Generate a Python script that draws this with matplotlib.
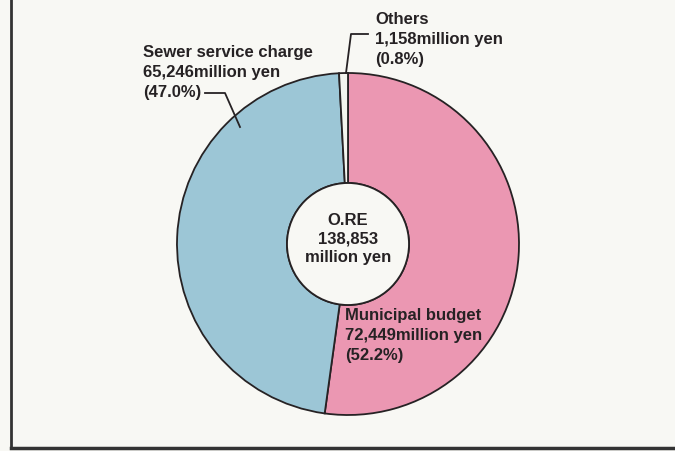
import numpy as np
import matplotlib
matplotlib.use("Agg")
import matplotlib.pyplot as plt

# revenue breakdown (million yen)
labels = ["Municipal budget", "Sewer service charge", "Others"]
values = [72449, 65246, 1158]
shares = [52.2, 47.0, 0.8]
total = 138853
colors = ["#eb97b2", "#9cc6d6", "#f3f5ef"]

plt.rcParams['font.family'] = ['Liberation Sans', 'DejaVu Sans']
ink = "#262224"
bg = "#f8f8f4"

fig = plt.figure(figsize=(6.75, 4.51), dpi=100, facecolor=bg)
ax = fig.add_axes([0, 0, 1, 1])
ax.set_facecolor(bg)

H = 451
cx, cy = 348, H - 244
R = 171
hole = 61

ax.pie(values, colors=colors, startangle=90, counterclock=False,
       center=(cx, cy), radius=R,
       wedgeprops=dict(width=R - hole, edgecolor=ink, linewidth=1.3))
# outline of the hole
ax.add_patch(plt.Circle((cx, cy), hole, facecolor=bg, edgecolor=ink, lw=1.3))

ax.set_xlim(0, 675)
ax.set_ylim(0, H)
ax.set_aspect('equal')
ax.axis('off')

def fmt(v):
    return "{:,}".format(v)

kw = dict(fontsize=12, fontweight='bold', color=ink, linespacing=1.42)

# labels
ax.text(143, H - 45, labels[1] + "\n" + fmt(values[1]) + "million yen\n(" +
        "%.1f%%)" % shares[1], ha='left', va='top', **kw)
ax.text(375, H - 12, labels[2] + "\n" + fmt(values[2]) + "million yen\n(" +
        "%.1f%%)" % shares[2], ha='left', va='top', **kw)
ax.text(345, H - 308, labels[0] + "\n" + fmt(values[0]) + "million yen\n(" +
        "%.1f%%)" % shares[0], ha='left', va='top', **kw)
ax.text(cx, cy + 5, "O.RE\n" + fmt(total) + "\nmillion yen",
        ha='center', va='center', fontsize=12, fontweight='bold',
        color=ink, linespacing=1.27)

# leader lines
ax.plot([205, 225, 240], [H - 93, H - 93, H - 127], color=ink, lw=1.3)
ax.plot([368, 351, 346], [H - 34, H - 34, H - 73], color=ink, lw=1.3)

# frame
ax.plot([11, 11], [H - 448, H], color="#333333", lw=2)
ax.plot([11, 675], [H - 448, H - 448], color="#333333", lw=2.5)

fig.savefig("out.png", dpi=100, facecolor=bg)
